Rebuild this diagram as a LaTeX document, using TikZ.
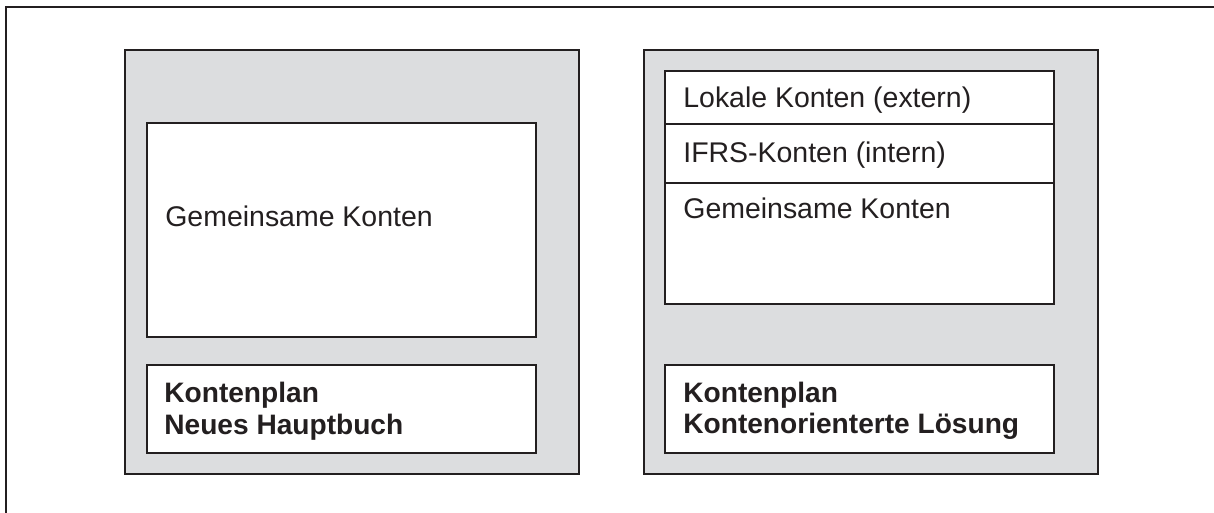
\documentclass[tikz,border=0pt]{standalone}
\usepackage{fontspec}
\setmainfont{Liberation Sans}
\definecolor{panelgray}{HTML}{DCDDDF}
\definecolor{inkblack}{HTML}{231F20}
\tikzset{
	panel/.style={draw=inkblack, line width=1.1pt, fill=panelgray},
	field/.style={draw=inkblack, line width=1.1pt, fill=white},
	lbl/.style={inner sep=0pt, anchor=base west, text=inkblack, font=\fontsize{16.2}{18}\selectfont},
	boldlbl/.style={lbl, font=\fontsize{16}{18}\selectfont\bfseries}
}

\begin{document}
\begin{tikzpicture}[x=0.02cm,y=-0.02cm]
		\useasboundingbox (0,0) rectangle (1214,512);
		\draw[inkblack, line width=0.75pt] (6,7) rectangle (1240,540);
		% linke Seite
		\draw[panel] (125,50) rectangle (579,474);
		\draw[field] (147,123) rectangle (536,337);
		\draw[field] (147,365) rectangle (536,453);
		\node[lbl] (gemL) at (165,226) {Gemeinsame Konten};
		\node[boldlbl] (planL) at (164,402) {Kontenplan};
		\node[boldlbl] (hauptbuch) at (164,434) {Neues Hauptbuch};
		% rechte Seite
		\draw[panel] (644,50) rectangle (1098,474);
		\draw[field] (665,71) rectangle (1054,304);
		\draw[inkblack, line width=1.1pt] (665,124) -- (1054,124) (665,183) -- (1054,183);
		\draw[field] (665,365) rectangle (1054,453);
		\node[lbl] (lokal) at (683,107) {Lokale Konten (extern)};
		\node[lbl] (ifrs) at (683,162) {IFRS-Konten (intern)};
		\node[lbl] (gemR) at (683,218) {Gemeinsame Konten};
		\node[boldlbl] (planR) at (683,402) {Kontenplan};
		\node[boldlbl] (loesung) at (683,433) {Kontenorienterte Lösung};
	\end{tikzpicture}
\end{document}
